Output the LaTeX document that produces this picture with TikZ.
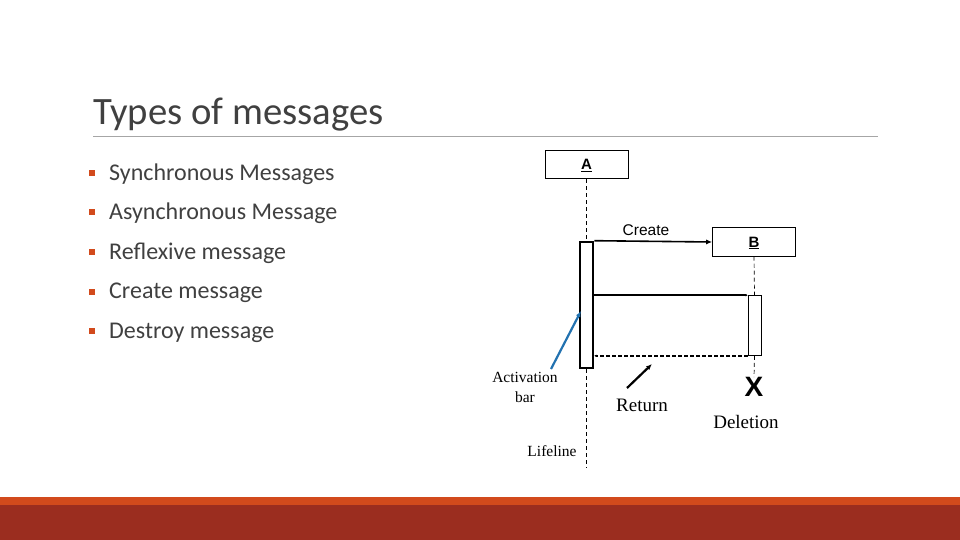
\documentclass[tikz,border=0pt]{standalone}
\usepackage{fontspec}
\setmainfont{Carlito}
\newfontfamily\arialfont{Liberation Sans}
\newfontfamily\timesfont{Liberation Serif}
\usetikzlibrary{arrows.meta,positioning,calc}
\definecolor{slideorange}{HTML}{D24A1C}
\definecolor{slidered}{HTML}{9B2D1F}
\definecolor{slidetext}{HTML}{404040}
\definecolor{pointblue}{HTML}{2272B0}
\tikzset{
  seqbox/.style={draw, line width=0.6pt, minimum width=83pt, minimum height=28.5pt, inner sep=0pt,
    font=\arialfont\fontsize{15}{15}\selectfont},
  lifeline/.style={dash pattern=on 4pt off 3pt, line width=0.7pt},
  seqarr/.style={-{Latex[length=6pt,width=5pt]}, line width=1.6pt},
  seqsmall/.style={-{Latex[length=2pt,width=2.5pt]}, line width=1.6pt},
  seqnote/.style={font=\timesfont\fontsize{19}{22}\selectfont, inner sep=0pt},
}

\begin{document}
\begin{tikzpicture}[
  x=1pt, y=-1pt,
  bullettext/.style={font=\fontsize{24}{24}\selectfont, text=slidetext, inner sep=0pt, anchor=base west},
  bulletsq/.style={fill=slideorange, minimum size=6pt, inner sep=0pt},
  actbar/.style={draw, fill=white, minimum width=13pt, inner sep=0pt},
]
  \useasboundingbox (0,0) rectangle (960,540);
  % title
  \node[font=\fontsize{38.7}{38.7}\selectfont, text=slidetext, inner sep=0pt, anchor=base west] (title) at (93,125) {Types of messages};
  \draw[gray!70, line width=0.8pt] (93,136) -- (878,136);
  % bullet list
  \foreach \txt [count=\i] in {Synchronous Messages, Asynchronous Message, Reflexive message, Create message, Destroy message} {
    \node[bulletsq] (sq\i) at ({91.5},{172.7+(\i-1)*39.6}) {};
    \node[bullettext] (item\i) at ({109},{180+(\i-1)*39.6}) {\txt};
  }
  % objects
  \node[seqbox, text depth=-4pt] (A) at (586.5,164.5) {\underline{\textbf{A}}};
  \node[seqbox, text depth=-2pt] (B) at (754,242) {\underline{\textbf{B}}};
  \node[actbar, line width=2.6pt, minimum height=126pt] (barA) at (586.5,305) {};
  \node[actbar, line width=0.6pt, minimum height=60pt] (barB) at (754.5,325.5) {};
  \node[font=\arialfont\bfseries\fontsize{28}{28}\selectfont, inner sep=0pt] (X) at (754,387) {X};
  \coordinate (endA) at (586.5,468);
  % lifelines
  \draw[lifeline] (A.south) -- (barA.north);
  \draw[lifeline] (barA.south) -- (endA);
  \draw[lifeline] (B.south) -- (barB.north);
  \draw[lifeline] (barB.south) -- (X.north);
  % messages
  \draw[seqarr] (barA.north east) -- (B.west);
  \node[font=\arialfont\fontsize{15.5}{15.5}\selectfont] (create) at (646,230) {Create};
  \draw[seqsmall] (barA.east |- barB.north) -- (barB.north west);
  \draw[seqsmall, dash pattern=on 4pt off 2pt] (barB.south west) -- (barA.east |- barB.south);
  % notes
  \node[seqnote, font=\timesfont\fontsize{15.5}{20}\selectfont, align=center] (act) at (525,387) {Activation\\bar};
  \node[seqnote, font=\timesfont\fontsize{15.5}{20}\selectfont] (life) at (552,451) {Lifeline};
  \node[seqnote] (ret) at (642,405) {Return};
  \node[seqnote] (del) at (746,422) {Deletion};
  \coordinate (actTail) at (551,369);
  \coordinate (actTip) at (581,311);
  \coordinate (retTail) at (627,388);
  \coordinate (retTip) at (652,364);
  \draw[-{Latex[length=6pt,width=5pt]}, pointblue, line width=2.2pt] (actTail) -- (actTip);
  \draw[-{Latex[length=6pt,width=5pt]}, line width=2.2pt] (retTail) -- (retTip);
  % footer bands
  \fill[slideorange] (0,497) rectangle (960,505);
  \fill[slidered] (0,505) rectangle (960,540);
\end{tikzpicture}
\end{document}
